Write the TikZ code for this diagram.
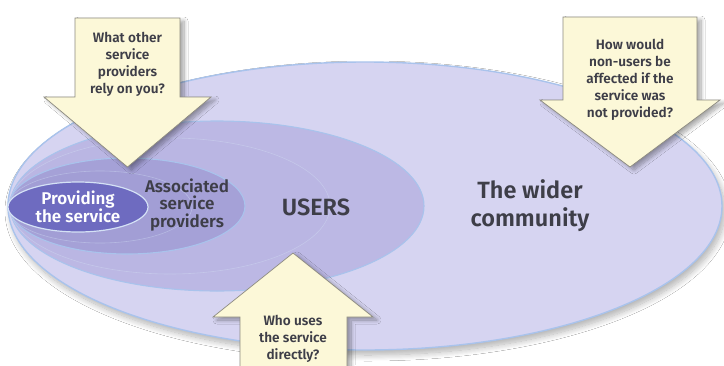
\documentclass[tikz,border=0pt]{standalone}
\usepackage{fontspec}
\setmainfont{Fira Sans}[BoldFont={Fira Sans SemiBold}]
\usetikzlibrary{shadows.blur}

\definecolor{community}{HTML}{D6D4F1}
\definecolor{usersfill}{HTML}{BCB8E4}
\definecolor{assocfill}{HTML}{A5A1D7}
\definecolor{providefill}{HTML}{6E6BC0}
\definecolor{rim}{HTML}{A9C3EC}
\definecolor{ink}{HTML}{3E3E48}
\definecolor{cream}{HTML}{FCF8D8}
\definecolor{arrowedge}{HTML}{8C8A80}

\tikzset{
  ring/.style={draw=rim, line width=1.4pt},
  innerring/.style={draw=rim, line width=1.1pt},
  layer/.style={draw=rim!50!white, line width=0.6pt, opacity=0.4},
  blockarrow/.style={fill=cream, draw=arrowedge, line width=0.7pt, line join=miter,
    blur shadow={shadow xshift=4pt, shadow yshift=-3pt, shadow blur steps=10,
      shadow blur radius=4pt, shadow opacity=35}},
  question/.style={align=center, text=ink, font=\bfseries\fontsize{13.6}{17}\selectfont},
  zonelabel/.style={align=center, text=ink, font=\bfseries\fontsize{23.5}{28}\selectfont},
  innerlabel/.style={align=center, text=ink, font=\bfseries\fontsize{17}{17.8}\selectfont},
}

\begin{document}
\begin{tikzpicture}[x=1pt, y=-1pt]
  \useasboundingbox (0,0) rectangle (724,365);
  \fill[white] (0,0) rectangle (724,365);
  \clip (0,0) rectangle (724,365);

  % nested circles of concern
  \path[ring, fill=community, blur shadow={shadow xshift=3pt, shadow yshift=-5pt,
      shadow blur steps=12, shadow blur radius=6pt, shadow opacity=30}]
    (365,206) ellipse [x radius=357pt, y radius=144pt];
  \path[innerring, fill=usersfill] (217,206) ellipse [x radius=207pt, y radius=85pt];
  % soft layering towards the left end
  \path[layer, fill=usersfill!88!assocfill] (170,206) ellipse [x radius=160pt, y radius=68pt];
  \path[innerring, fill=assocfill] (127,206) ellipse [x radius=118pt, y radius=48pt];
  \path[layer, fill=assocfill!88!providefill] (100,207) ellipse [x radius=92pt, y radius=36pt];
  \path[draw=rim!50!white, line width=1.2pt, fill=providefill] (78,207) ellipse [x radius=70pt, y radius=25pt];

  \node[innerlabel, text=white] (provide) at (78,207) {Providing\\the service};
  \node[innerlabel] (assoc) at (187,205) {Associated\\service\\providers};
  \node[zonelabel] (users) at (316,207) {USERS};
  \node[zonelabel] (wider) at (530,206) {The wider\\community};

  % question arrows
  \path[blockarrow] (75,18) -- (180,18) -- (180,97) -- (211,97) -- (127.5,167)
    -- (44,97) -- (75,97) -- cycle;
  \node[question] (askproviders) at (127.5,64) {What other\\service\\providers\\rely on you?};

  \path[blockarrow] (563,17) -- (697,17) -- (697,100) -- (720,100) -- (630,167)
    -- (540,100) -- (563,100) -- cycle;
  \node[question] (asknonusers) at (630,80) {How would\\non-users be\\affected if the\\service was\\not provided?};

  \path[blockarrow] (293,253) -- (373,317) -- (347,317) -- (347,380) -- (240,380)
    -- (240,317) -- (213,317) -- cycle;
  \node[question] (askusers) at (293,339) {Who uses\\the service\\directly?};
\end{tikzpicture}
\end{document}
